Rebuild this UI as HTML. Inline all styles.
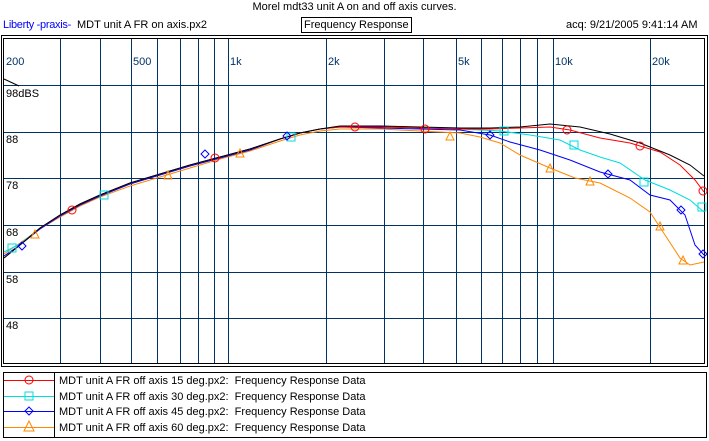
<html><head><style>
body{margin:0;width:709px;height:441px;background:#fff;overflow:hidden;font-family:"Liberation Sans",sans-serif;font-size:11px}
.t{position:absolute;white-space:nowrap}
</style></head><body>
<div class="t" style="left:0;width:709px;top:1px;text-align:center">Morel mdt33 unit A on and off axis curves.</div>
<div class="t" style="left:3px;top:19px;color:#00f;letter-spacing:-0.3px">Liberty -praxis-</div>
<div class="t" style="left:77px;top:19px">MDT unit A FR on axis.px2</div>
<div class="t" style="left:301px;top:17px;border:1px solid #000;padding:0 2px;line-height:14px">Frequency Response</div>
<div class="t" style="left:566px;top:19px">acq: 9/21/2005 9:41:14 AM</div>
<svg width="709" height="441" style="position:absolute;left:0;top:0" font-family="Liberation Sans" font-size="11">
<rect x="1.5" y="35.5" width="706" height="331" fill="none" stroke="#000"/>
<rect x="3.5" y="38.5" width="701" height="325" fill="none" stroke="#000"/>
<g stroke="#003366" stroke-width="1">
<path d="M60.5 39V363M100.5 39V363M131.5 39V363M157.5 39V363M180.5 39V363M198.5 39V363M214.5 39V363M228.5 39V363M326.5 39V363M384.5 39V363M423.5 39V363M456.5 39V363M481.5 39V363M502.5 39V363M520.5 39V363M537.5 39V363M553.5 39V363M650.5 39V363"/>
<path d="M4 85.5H704M4 132.5H704M4 178.5H704M4 225.5H704M4 272.5H704M4 318.5H704"/>
</g>
<g fill="#003366">
<text x="6" y="65">200</text><text x="133" y="65">500</text><text x="230" y="65">1k</text><text x="328" y="65">2k</text><text x="458" y="65">5k</text><text x="555" y="65">10k</text><text x="652" y="65">20k</text>
</g>
<path d="M4 79L19 86" stroke="#000" fill="none"/>
<g fill="#000"><text x="6" y="97">98dBS</text><text x="6" y="143">88</text><text x="6" y="189">78</text><text x="6" y="236">68</text><text x="6" y="283">58</text><text x="6" y="329">48</text></g>
<g fill="none" stroke-width="1">
<polyline stroke="#f80" points="4,254 20,243 40,229 60,217 80,206 100,197 130,186 160,177 190,168 220,159 250,151 280,141 300,135 320,131 340,129 380,129 420,131 460,133 480,137 500,143 520,155 550,168 575,178 600,183 630,198 650,212 665,235 680,258 690,265 704,262"/>
<polyline stroke="#00f" points="4,256 20,245 40,229 60,216 80,205 100,196 130,184 160,175 190,166 220,158 250,150 280,139 300,133 320,129 340,127 380,128 420,129 460,130 490,135 510,142 540,150 570,160 600,172 630,180 650,195 670,200 685,215 695,245 704,255"/>
<polyline stroke="#0dd" points="4,252 20,244 40,228 60,215 80,204 100,195 130,183 160,174 190,165 220,157 250,149 280,139 300,133 320,129 340,127 380,127 420,128 460,129 500,131 530,135 560,140 580,150 600,157 620,163 645,180 670,190 690,200 704,212"/>
<polyline stroke="#f00" points="4,258 20,245 40,228 60,215 80,204 100,195 130,183 160,174 190,165 220,157 250,149 280,139 300,133 320,129 340,127 380,127 420,128 460,129 490,129 520,128 550,127 570,130 600,138 630,143 660,152 680,165 695,180 704,192"/>
<polyline stroke="#000" points="4,258 20,245 40,228 60,215 80,204 100,195 130,183 160,174 190,165 220,157 250,149 280,139 300,133 320,129 340,126 380,126 420,127 460,128 490,128 520,127 550,124 580,127 610,134 640,143 670,155 690,165 704,176"/>
</g>
<g fill="none" stroke="#f00"><circle cx="72" cy="210" r="4"/><circle cx="215" cy="158" r="4"/><circle cx="355" cy="127" r="4"/><circle cx="425" cy="129" r="4"/><circle cx="567" cy="130" r="4"/><circle cx="640" cy="146" r="4"/><circle cx="703" cy="191" r="4"/></g>
<g fill="none" stroke="#0dd"><rect x="8" y="244" width="8" height="8"/><rect x="100" y="191" width="8" height="8"/><rect x="287" y="133" width="8" height="8"/><rect x="500" y="127" width="8" height="8"/><rect x="570" y="141" width="8" height="8"/><rect x="640" y="178" width="8" height="8"/><rect x="698" y="203" width="8" height="8"/></g>
<g fill="none" stroke="#00f"><path d="M22 242l4 4-4 4-4-4z"/><path d="M205 150l4 4-4 4-4-4z"/><path d="M287 132l4 4-4 4-4-4z"/><path d="M490 131l4 4-4 4-4-4z"/><path d="M608 170l4 4-4 4-4-4z"/><path d="M681 206l4 4-4 4-4-4z"/><path d="M703 250l4 4-4 4-4-4z"/></g>
<g fill="none" stroke="#f80"><path d="M35 230l4 8h-8z"/><path d="M168 171l4 8h-8z"/><path d="M240 149l4 8h-8z"/><path d="M450 132l4 8h-8z"/><path d="M550 164l4 8h-8z"/><path d="M590 177l4 8h-8z"/><path d="M660 222l4 8h-8z"/><path d="M683 256l4 8h-8z"/></g>
<rect x="3.5" y="372.5" width="703" height="65" fill="none" stroke="#000"/>
<line x1="54.5" y1="373" x2="54.5" y2="437" stroke="#000"/>
<line x1="4" y1="380.5" x2="54" y2="380.5" stroke="#f00"/><circle cx="29" cy="380" r="4" fill="none" stroke="#f00"/>
<line x1="4" y1="396.5" x2="54" y2="396.5" stroke="#0dd"/><rect x="25" y="392" width="8" height="8" fill="none" stroke="#0dd"/>
<line x1="4" y1="411.5" x2="54" y2="411.5" stroke="#00f"/><path d="M29 407l4 4-4 4-4-4z" fill="none" stroke="#00f"/>
<line x1="4" y1="427.5" x2="54" y2="427.5" stroke="#f80"/><path d="M29 421l5 10h-10z" fill="none" stroke="#f80"/>
<g fill="#000"><text x="59" y="384">MDT unit A FR off axis 15 deg.px2:&#160; Frequency Response Data</text><text x="59" y="400">MDT unit A FR off axis 30 deg.px2:&#160; Frequency Response Data</text><text x="59" y="415">MDT unit A FR off axis 45 deg.px2:&#160; Frequency Response Data</text><text x="59" y="431">MDT unit A FR off axis 60 deg.px2:&#160; Frequency Response Data</text></g>
</svg>
</body></html>
